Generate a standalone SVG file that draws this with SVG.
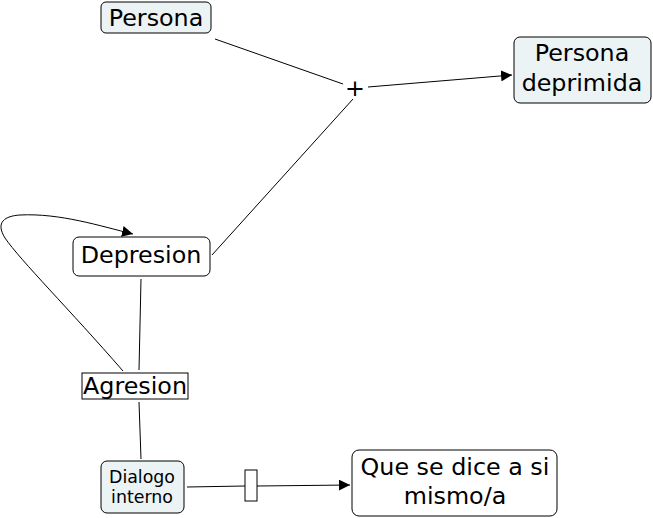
<svg xmlns="http://www.w3.org/2000/svg" width="653" height="518" viewBox="0 0 653 518">
<style>
.box{stroke:#000;stroke-width:1}
.blue{fill:#ecf3f5}
.white{fill:#fff}
text{font-family:"DejaVu Sans",Verdana,sans-serif;fill:#000;text-anchor:middle}
.big{font-size:23.8px}
.small{font-size:17.4px}
.ln{fill:none;stroke:#000;stroke-width:1}
</style>
<defs>
<marker id="arr" viewBox="0 0 10 10" refX="10" refY="5" markerWidth="11" markerHeight="11" markerUnits="userSpaceOnUse" orient="auto">
<path d="M0,0 L10,5 L0,10 z" fill="#000"/>
</marker>
</defs>
<rect width="653" height="518" fill="#fff"/>
<g id="connectors">
<line class="ln" x1="215" y1="39" x2="343" y2="84"/>
<line class="ln" x1="368" y1="87" x2="512" y2="75" marker-end="url(#arr)"/>
<line class="ln" x1="212" y1="255" x2="353" y2="99"/>
<path class="ln" d="M123,371 C70,310 20,260 5,238 C-5,222 5,216 20,215 C60,213 100,226 133,234" marker-end="url(#arr)"/>
<line class="ln" x1="141" y1="279" x2="139" y2="370"/>
<line class="ln" x1="139" y1="402" x2="141" y2="459"/>
<line class="ln" x1="187" y1="487" x2="245" y2="486"/>
<line class="ln" x1="257" y1="486" x2="350" y2="485" marker-end="url(#arr)"/>
<rect class="box white" x="245" y="470" width="12" height="31"/>
<text id="plus" class="big" x="355" y="96">+</text>
</g>
<g id="persona">
<rect class="box blue" x="101" y="2" width="110" height="31" rx="5"/>
<text class="big" x="156" y="26">Persona</text>
</g>
<g id="persona-deprimida">
<rect class="box blue" x="514" y="37" width="137" height="66" rx="6"/>
<text class="big" x="582" y="61">Persona</text>
<text class="big" x="582" y="91">deprimida</text>
</g>
<g id="depresion">
<rect class="box white" x="73" y="237" width="137" height="39" rx="6"/>
<text class="big" x="141" y="263">Depresion</text>
</g>
<g id="agresion">
<rect class="box white" x="82" y="373" width="106" height="26"/>
<text class="big" x="135" y="394">Agresion</text>
</g>
<g id="dialogo">
<rect class="box blue" x="101" y="461" width="83" height="52" rx="6"/>
<text class="small" x="142" y="483">Dialogo</text>
<text class="small" x="142" y="503">interno</text>
</g>
<g id="que-se-dice">
<rect class="box white" x="352" y="450" width="205" height="66" rx="7"/>
<text class="big" x="455" y="475">Que se dice a si</text>
<text class="big" x="455" y="504">mismo/a</text>
</g>
</svg>
